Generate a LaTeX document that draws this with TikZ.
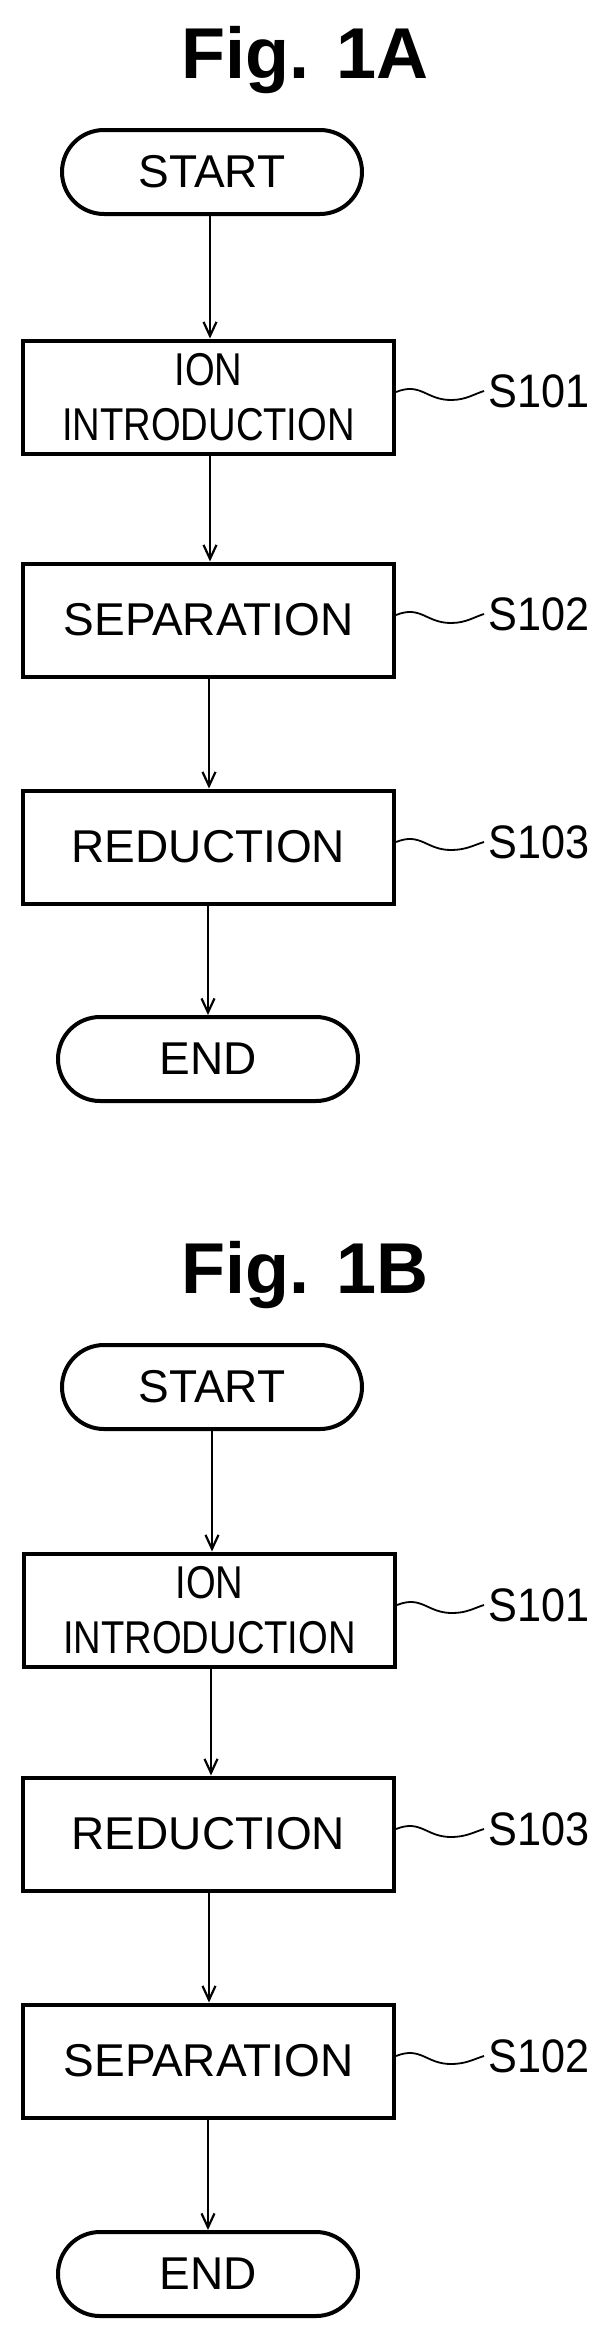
\documentclass[tikz,border=0pt]{standalone}
\usepackage{fontspec}
\setmainfont{Liberation Sans}
\newfontfamily\condf[FakeStretch=0.83]{Liberation Sans}
\newfontfamily\labf[FakeStretch=0.92]{Liberation Sans}
\usetikzlibrary{arrows.meta,calc}
\begin{document}
\begin{tikzpicture}[x=1pt,y=-1pt,
  box/.style={draw,line width=4pt,minimum width=371pt,minimum height=113pt,inner sep=0pt,font=\fontsize{46}{55}\selectfont,align=center},
  term/.style={draw,line width=4pt,rounded corners=42pt,minimum width=300pt,minimum height=84pt,inner sep=0pt,font=\fontsize{46}{55}\selectfont},
  lab/.style={font=\labf\fontsize{47}{50}\selectfont,anchor=west,inner sep=0pt},
  title/.style={font=\bfseries\fontsize{72}{80}\selectfont,inner sep=0pt},
  arr/.style={line width=2.8pt,-{Straight Barb[length=14pt,width=13pt,line width=2.2pt]}},
  wav/.style={line width=1.8pt}]
\useasboundingbox (0,0) rectangle (608,2329);
% Fig 1A
\node[title,anchor=base] (ta) at (305,78) {Fig. 1A};
\node[term] (sa) at (212,172) {START};
\node[box,font=\condf\fontsize{46}{55}\selectfont] (a1) at (208.5,397) {ION\\INTRODUCTION};
\node[box] (a2) at (208.5,620) {SEPARATION};
\node[box] (a3) at (208.5,847) {REDUCTION};
\node[term] (ea) at (208,1059) {END};
\node[lab] (la1) at (488,391) {S101};
\node[lab] (la2) at (488,614) {S102};
\node[lab] (la3) at (488,842) {S103};
\draw[arr] (sa.south -| 210,0) -- (a1.north -| 210,0);
\draw[arr] (a1.south -| 210,0) -- (a2.north -| 210,0);
\draw[arr] (a2.south -| 209,0) -- (a3.north -| 209,0);
\draw[arr] (a3.south -| 208,0) -- (ea.north -| 208,0);
% Fig 1B
\node[title,anchor=base] (tb) at (305,1293) {Fig. 1B};
\node[term] (sb) at (212,1387) {START};
\node[box,font=\condf\fontsize{46}{55}\selectfont] (b1) at (209.5,1610) {ION\\INTRODUCTION};
\node[box] (b2) at (208.5,1834) {REDUCTION};
\node[box] (b3) at (208.5,2061) {SEPARATION};
\node[term] (eb) at (208,2274) {END};
\node[lab] (lb1) at (488,1605) {S101};
\node[lab] (lb2) at (488,1829) {S103};
\node[lab] (lb3) at (488,2056) {S102};
\draw[arr] (sb.south -| 212,0) -- (b1.north -| 212,0);
\draw[arr] (b1.south -| 211,0) -- (b2.north -| 211,0);
\draw[arr] (b2.south -| 209,0) -- (b3.north -| 209,0);
\draw[arr] (b3.south -| 208,0) -- (eb.north -| 208,0);
% wavy leaders
\foreach \b/\l in {a1/la1,a2/la2,a3/la3,b1/lb1,b2/lb2,b3/lb3}{
  \draw[wav] ($(\b.east)+(0,-5)$) .. controls +(25,-10) and +(-25,0) .. ($(\b.east)+(55,3)$)
     .. controls +(15,0) and +(-10,3) .. ($(\l.west)+(-4,0)$);
}
\end{tikzpicture}
\end{document}
